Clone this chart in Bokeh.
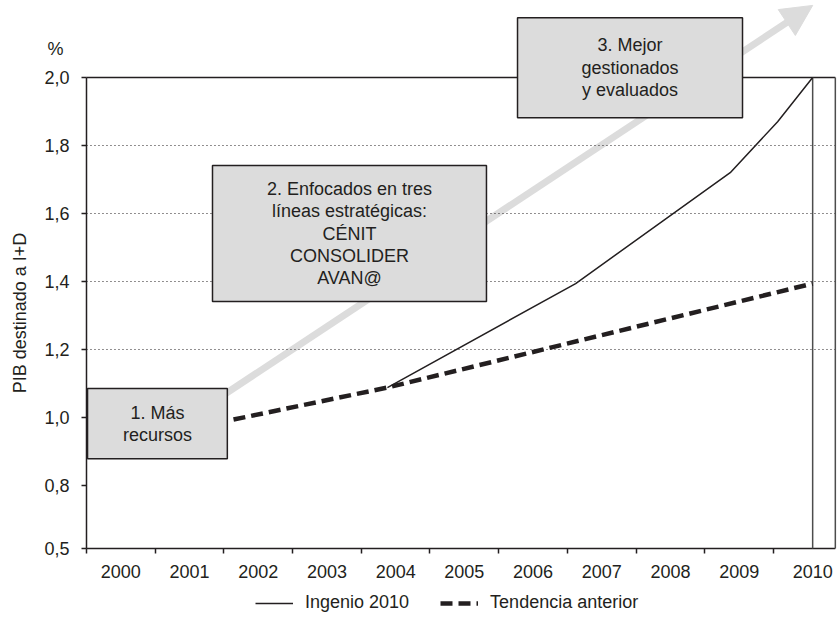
import math
from bokeh.plotting import figure
from bokeh.models import (Range1d, FixedTicker, Label, Legend, LegendItem,
                          Arrow, NormalHead)
from bokeh.embed import file_html
from bokeh.resources import INLINE
from bokeh.core.properties import value

# ---------------- data ----------------
years = ["2000", "2001", "2002", "2003", "2004", "2005",
         "2006", "2007", "2008", "2009", "2010"]
year_label_pos = [0.5, 1.5, 2.5, 3.5, 4.5, 5.5, 6.5, 7.5, 8.5, 9.5, 10.57]
year_bounds = [0, 1, 2, 3, 4, 5, 6, 7, 8, 9, 10]

ingenio_x = [4.38, 7.12, 9.37, 10.06, 10.57]
ingenio_y = [1.088, 1.394, 1.72, 1.87, 2.0]

tendencia_x = [2.14, 4.38, 10.57]
tendencia_y = [0.994, 1.088, 1.394]

y_tick_pos = [0.615, 0.8, 1.0, 1.2, 1.4, 1.6, 1.8, 2.0]
y_tick_labels = ["0,5", "0,8", "1,0", "1,2", "1,4", "1,6", "1,8", "2,0"]
grid_pos = [1.2, 1.4, 1.6, 1.8]

box_texts = ["1. Más\nrecursos",
             "2. Enfocados en tres\nlíneas estratégicas:\nCÉNIT\nCONSOLIDER\nAVAN@",
             "3. Mejor\ngestionados\ny evaluados"]
box_left = [0.015, 1.834, 6.274]
box_right = [2.05, 5.822, 9.549]
box_top = [1.085, 1.741, 2.176]
box_bottom = [0.879, 1.341, 1.882]

arrow_start = (0.93, 0.924)
arrow_end = (10.57, 2.212)

# plot extents (data units)
x_min, x_max = -1.2518, 10.9316
y_min, y_max = 0.4088, 2.2265
y_axis_base = 0.615
y_top_frame = 2.0
x_end_line = 10.57
x_outer_line = 10.90

FONT = "Liberation Sans"
INK = "#231f20"
GRAY = "#dcdcdc"

# ---------------- figure ----------------
p = figure(width=837, height=618, output_backend="svg", toolbar_location=None,
           x_range=Range1d(x_min, x_max), y_range=Range1d(y_min, y_max))
p.min_border = 0
p.min_border_left = 0
p.min_border_right = 0
p.min_border_top = 0
p.min_border_bottom = 0
p.outline_line_color = None
p.background_fill_color = "white"
p.border_fill_color = "white"
p.xgrid.visible = False
p.ygrid.visible = False

# axes (drawn at fixed data locations)
xa = p.xaxis[0]
xa.fixed_location = y_axis_base
xa.ticker = FixedTicker(ticks=year_label_pos, minor_ticks=year_bounds)
xa.major_label_overrides = {pos: lab for pos, lab in zip(year_label_pos, years)}
xa.major_tick_out = 0
xa.major_tick_in = 0
xa.minor_tick_out = 5
xa.minor_tick_in = 0
xa.minor_tick_line_color = INK
xa.minor_tick_line_width = 1.5
xa.axis_line_color = None
xa.major_label_standoff = 12
xa.major_label_text_font = FONT
xa.major_label_text_font_size = "18px"
xa.major_label_text_color = INK

ya = p.yaxis[0]
ya.fixed_location = 0
ya.ticker = FixedTicker(ticks=y_tick_pos)
ya.major_label_overrides = {pos: lab for pos, lab in zip(y_tick_pos, y_tick_labels)}
ya.axis_line_color = None
ya.major_tick_out = 5
ya.major_tick_in = 0
ya.major_tick_line_color = INK
ya.major_tick_line_width = 1.5
ya.minor_tick_line_color = None
ya.major_label_standoff = 12
ya.major_label_text_font = FONT
ya.major_label_text_font_size = "18px"
ya.major_label_text_color = INK

# dotted grid lines
p.segment(x0=[0] * len(grid_pos), y0=grid_pos, x1=[x_outer_line] * len(grid_pos), y1=grid_pos,
          line_color=INK, line_width=1, line_dash="1 3")

# arrow (behind boxes)
arrow = Arrow(end=NormalHead(size=31, fill_color=GRAY, line_color=GRAY),
              x_start=arrow_start[0], y_start=arrow_start[1],
              x_end=arrow_end[0], y_end=arrow_end[1],
              line_color=GRAY, line_width=7, level="underlay")
p.add_layout(arrow)

# frame lines: left axis, bottom axis, top line
p.segment(x0=[0, 0, 0], y0=[y_axis_base, y_axis_base, y_top_frame],
          x1=[0, x_outer_line, x_outer_line], y1=[y_top_frame, y_axis_base, y_top_frame],
          line_color=INK, line_width=1.5)
# right vertical lines
p.segment(x0=[x_end_line, x_outer_line], y0=[y_axis_base, y_axis_base],
          x1=[x_end_line, x_outer_line], y1=[y_top_frame, y_top_frame],
          line_color="#4d4d4d", line_width=1.5)

# series
r_tend = p.line(tendencia_x, tendencia_y, line_color=INK, line_width=4.5, line_dash="12 6")
r_ing = p.line(ingenio_x, ingenio_y, line_color=INK, line_width=1.5)

# boxes
p.quad(left=box_left, right=box_right, top=box_top, bottom=box_bottom,
       fill_color=GRAY, line_color=INK, line_width=1.5)
cx = [(l + r) / 2 for l, r in zip(box_left, box_right)]
cy = [(t + b) / 2 for t, b in zip(box_top, box_bottom)]
p.text(x=cx, y=cy, text=box_texts, text_align="center", text_baseline="middle",
       text_font=value(FONT), text_font_size=value("18px"), text_color=INK,
       text_line_height=1.11)

# labels
p.add_layout(Label(x=0, y=y_top_frame, x_offset=-31, y_offset=29, text="%",
                   text_align="center", text_baseline="middle",
                   text_font=FONT, text_font_size="18px", text_color=INK))
p.add_layout(Label(x=0, y=(y_axis_base + y_top_frame) / 2, x_offset=-66, text="PIB destinado a I+D",
                   angle=math.pi / 2, text_align="center", text_baseline="middle",
                   text_font=FONT, text_font_size="18px", text_color=INK))

# legend
legend = Legend(items=[LegendItem(label="Ingenio 2010", renderers=[r_ing]),
                       LegendItem(label="Tendencia anterior", renderers=[r_tend])],
                location=(255, 5), orientation="horizontal",
                glyph_width=38, glyph_height=20, label_height=20,
                label_standoff=12, spacing=31,
                padding=0, margin=0, border_line_color=None, background_fill_alpha=0,
                label_text_font=FONT, label_text_font_size="18px", label_text_color=INK)
p.add_layout(legend, "center")

open("out.html", "w").write(file_html(p, INLINE))
